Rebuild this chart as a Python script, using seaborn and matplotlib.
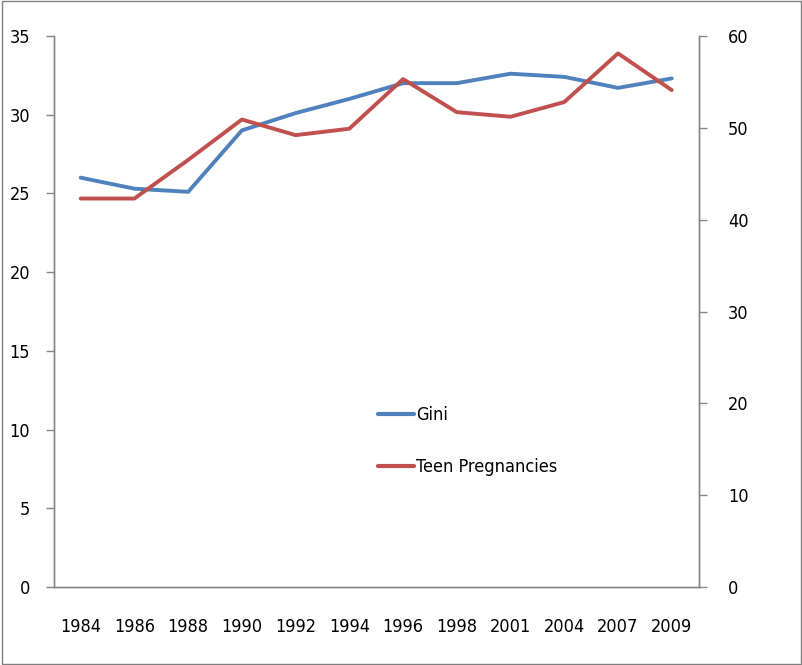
import numpy as np
import pandas as pd
import matplotlib
matplotlib.use("Agg")
import matplotlib.pyplot as plt
import seaborn as sns
from matplotlib.lines import Line2D
from matplotlib.patches import Rectangle

# data
years = ["1984", "1986", "1988", "1990", "1992", "1994",
         "1996", "1998", "2001", "2004", "2007", "2009"]
gini = [26.0, 25.3, 25.1, 29.0, 30.1, 31.0, 32.0, 32.0, 32.6, 32.4, 31.7, 32.3]
teen_preg = [42.3, 42.3, 46.5, 50.9, 49.2, 49.9, 55.3, 51.7, 51.2, 52.8, 58.1, 54.1]

blue = "#4F81BD"
red = "#C0504D"
grey = "#868686"

sns.set_theme(style="white")
plt.rcParams["font.family"] = ["DejaVu Sans"]
plt.rcParams["font.stretch"] = "condensed"
plt.rcParams["text.color"] = "black"

df = pd.DataFrame({"pos": np.arange(len(years)), "Gini": gini,
                   "Teen Pregnancies": teen_preg})

fig = plt.figure(figsize=(8.03, 6.65), dpi=100)
ax = fig.add_axes([0.067, 0.117, 0.803, 0.829])
ax2 = ax.twinx()

sns.lineplot(data=df, x="pos", y="Gini", ax=ax, color=blue, linewidth=2.8)
sns.lineplot(data=df, x="pos", y="Teen Pregnancies", ax=ax2, color=red, linewidth=2.8)

ax.set_xlim(-0.5, len(years) - 0.5)
ax.set_ylim(0, 35)
ax2.set_ylim(0, 60)
ax.set_yticks(np.arange(0, 36, 5))
ax2.set_yticks(np.arange(0, 61, 10))

ax.set_xticks(np.arange(len(years)))
ax.set_xticklabels(years)
ax.set_xticks(np.arange(-0.5, len(years)), minor=True)
ax.tick_params(axis="x", which="major", length=0, pad=22, labelsize=13, labelcolor="black")
ax.tick_params(axis="x", which="minor", length=6, color=grey, width=1, direction="out")
ax.tick_params(axis="y", length=6, color=grey, width=1, direction="out", labelsize=13,
               pad=11, labelcolor="black")
ax2.tick_params(axis="y", length=6, color=grey, width=1, direction="out", labelsize=13,
                pad=15, labelcolor="black")

ax.set_xlabel("")
ax.set_ylabel("")
ax2.set_ylabel("")

for a in (ax, ax2):
    a.spines["top"].set_visible(False)
    for s in ("left", "right", "bottom"):
        a.spines[s].set_color(grey)
        a.spines[s].set_linewidth(1)

handles = [Line2D([0], [0], color=blue, linewidth=3),
           Line2D([0], [0], color=red, linewidth=3)]
ax2.legend(handles, ["Gini", "Teen Pregnancies"], loc="center left",
           bbox_to_anchor=(0.478, 0.265), frameon=False, fontsize=13,
           handlelength=2.0, handletextpad=0.1, labelspacing=1.9)

fig.patches.append(Rectangle((0.002, 0.002), 0.996, 0.996, transform=fig.transFigure,
                             fill=False, edgecolor="#7f7f7f", linewidth=1))

fig.savefig("out.png", dpi=100)
